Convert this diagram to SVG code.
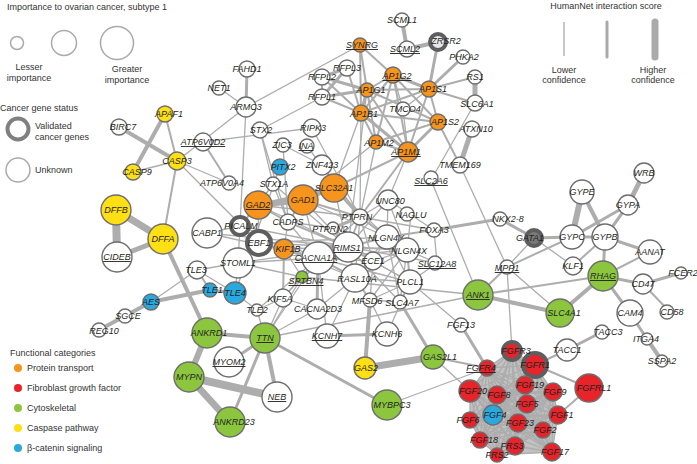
<svg xmlns="http://www.w3.org/2000/svg" width="697" height="464" viewBox="0 0 697 464">
<style>
.bg{fill:#fff}
.e{stroke:#adadad;fill:none;stroke-linecap:round;stroke-linejoin:round}
.e1{stroke-width:1.3}.e2{stroke-width:2}.e3{stroke-width:3}.e4{stroke-width:4}.e5{stroke-width:5}.e6{stroke-width:6}.e7{stroke-width:7}.e8{stroke-width:8}
circle.n{stroke:#6d6d6d;stroke-width:1.4}
.w{fill:#fff}.o{fill:#F7941D}.r{fill:#E8242B}.g{fill:#8CC63F}.y{fill:#FFE014}.b{fill:#29A9E0}
circle.v{stroke:#5e5e5e;stroke-width:4}
text{font-family:"Liberation Sans",Arial,sans-serif;fill:#231F20}
text.l{font-size:9px;font-style:italic;text-anchor:middle}
text.u{text-decoration:underline}
text.lg{font-size:9px;fill:#333}
text.c{text-anchor:middle}
</style>
<rect class="bg" x="0" y="0" width="697" height="464"/>
<g id="legend">
<text class="lg" x="7" y="10">Importance to ovarian cancer, subtype 1</text>
<circle cx="17" cy="43" r="6.5" fill="none" stroke="#aaa" stroke-width="1.5"/>
<circle cx="64" cy="43" r="12.5" fill="none" stroke="#aaa" stroke-width="1.5"/>
<circle cx="117" cy="43" r="16.5" fill="none" stroke="#aaa" stroke-width="1.5"/>
<text class="lg c" x="29" y="70">Lesser</text>
<text class="lg c" x="29" y="81">importance</text>
<text class="lg c" x="127" y="72">Greater</text>
<text class="lg c" x="127" y="83">importance</text>
<text class="lg" x="0" y="111">Cancer gene status</text>
<circle cx="18" cy="129" r="10.5" fill="none" stroke="#808080" stroke-width="4"/>
<text class="lg" x="35" y="129">Validated</text>
<text class="lg" x="35" y="140">cancer genes</text>
<circle cx="18" cy="170" r="12" fill="none" stroke="#aaa" stroke-width="1.5"/>
<text class="lg" x="35" y="173">Unknown</text>
<text class="lg" x="606" y="9" text-anchor="middle">HumanNet interaction score</text>
<line x1="564" y1="22" x2="564" y2="56" stroke="#aaa" stroke-width="1.3"/>
<line x1="607" y1="22" x2="607" y2="57" stroke="#aaa" stroke-width="3" stroke-linecap="round"/>
<line x1="655" y1="22" x2="655" y2="57" stroke="#aaa" stroke-width="7" stroke-linecap="round"/>
<text class="lg c" x="564" y="73">Lower</text>
<text class="lg c" x="564" y="83">confidence</text>
<text class="lg c" x="653" y="73">Higher</text>
<text class="lg c" x="653" y="83">confidence</text>
<text class="lg" x="10" y="356">Functional categories</text>
<circle cx="18" cy="368" r="4" class="o"/><text class="lg" x="27" y="371">Protein transport</text>
<circle cx="18" cy="388" r="4" class="r"/><text class="lg" x="27" y="391">Fibroblast growth factor</text>
<circle cx="18" cy="408" r="4" class="g"/><text class="lg" x="27" y="411">Cytoskeletal</text>
<circle cx="18" cy="428" r="4" class="y"/><text class="lg" x="27" y="431">Caspase pathway</text>
<circle cx="18" cy="448" r="4" class="b"/><text class="lg" x="27" y="451">β-catenin signaling</text>
</g>
<g id="edges" class="e">
<polygon points="512,351 535,365 553,392 558,415 552,452 497,455 480,440 470,420 470,391 487,368" fill="#c2c2c2" stroke="none"/>
<path class="e1" d="M535 365L512 351 535 365 487 368 535 365 525 385 535 365 553 392 535 365 527 404 535 365 558 415 535 365 518 423 535 365 543 430 535 365 515 446 535 365 552 452 535 365 470 391 535 365 497 395 535 365 493 415 535 365 470 420 535 365 480 440 535 365 497 455M512 351L487 368 512 351 525 385 512 351 553 392 512 351 527 404 512 351 558 415 512 351 518 423 512 351 543 430 512 351 515 446 512 351 552 452 512 351 470 391 512 351 497 395 512 351 493 415 512 351 470 420 512 351 480 440 512 351 497 455M487 368L525 385 487 368 553 392 487 368 527 404 487 368 558 415 487 368 518 423 487 368 543 430 487 368 515 446 487 368 552 452 487 368 470 391 487 368 497 395 487 368 493 415 487 368 470 420 487 368 480 440 487 368 497 455M525 385L553 392 525 385 527 404 525 385 558 415 525 385 518 423 525 385 543 430 525 385 515 446 525 385 552 452 525 385 470 391 525 385 497 395 525 385 493 415 525 385 470 420 525 385 480 440 525 385 497 455M553 392L527 404 553 392 558 415 553 392 518 423 553 392 543 430 553 392 515 446 553 392 552 452 553 392 470 391 553 392 497 395 553 392 493 415 553 392 470 420 553 392 480 440 553 392 497 455M527 404L558 415 527 404 518 423 527 404 543 430 527 404 515 446 527 404 552 452 527 404 470 391 527 404 497 395 527 404 493 415 527 404 470 420 527 404 480 440 527 404 497 455M558 415L518 423 558 415 543 430 558 415 515 446 558 415 552 452 558 415 470 391 558 415 497 395 558 415 493 415 558 415 470 420 558 415 480 440 558 415 497 455M518 423L543 430 518 423 515 446 518 423 552 452 518 423 470 391 518 423 497 395 518 423 493 415 518 423 470 420 518 423 480 440 518 423 497 455M543 430L515 446 543 430 552 452 543 430 470 391 543 430 497 395 543 430 493 415 543 430 470 420 543 430 480 440 543 430 497 455M515 446L552 452 515 446 470 391 515 446 497 395 515 446 493 415 515 446 470 420 515 446 480 440 515 446 497 455M552 452L470 391 552 452 497 395 552 452 493 415 552 452 470 420 552 452 480 440 552 452 497 455M470 391L497 395 470 391 493 415 470 391 470 420 470 391 480 440 470 391 497 455M497 395L493 415 497 395 470 420 497 395 480 440 497 395 497 455M493 415L470 420 493 415 480 440 493 415 497 455M470 420L480 440 470 420 497 455M480 440L497 455"/>
<!-- extra neural density -->
<path class="e1" d="M238 263L348 247M207 233L348 247M259 243L387 237M284 249L348 247M318 258L410 282M355 278L387 237M373 261L360 217M388 200L407 250M333 228L348 247M283 298L318 258M302 277L348 247M317 309L355 278M373 261L370 300M400 302L407 250M257 310L318 258M257 310L283 298M240 226L318 258M288 222L318 258M303 200L318 258M334 188L387 237M258 205L348 247M303 200L387 237M355 278L407 250M348 247L410 282M360 217L355 278M333 228L373 261M284 249L355 278M238 263L302 277"/>
<!-- caspase -->
<line class="e4" x1="119" y1="127" x2="177" y2="161"/>
<line class="e4" x1="165" y1="114" x2="133" y2="172"/>
<line class="e2" x1="165" y1="114" x2="177" y2="161"/>
<line class="e1" x1="133" y1="172" x2="177" y2="161"/>
<line class="e2" x1="177" y1="161" x2="163" y2="239"/>
<line class="e7" x1="116" y1="210" x2="163" y2="239"/>
<line class="e8" x1="116" y1="210" x2="117" y2="257"/>
<line class="e5" x1="117" y1="257" x2="163" y2="239"/>
<line class="e4" x1="163" y1="239" x2="207" y2="333"/>
<line class="e1" x1="177" y1="161" x2="229" y2="183"/>
<line class="e1" x1="177" y1="161" x2="259" y2="243"/>
<line class="e1" x1="177" y1="161" x2="246" y2="107"/>
<!-- top -->
<line class="e3" x1="247" y1="69" x2="246" y2="107"/>
<line class="e1" x1="219" y1="88" x2="246" y2="107"/>
<line class="e1" x1="246" y1="107" x2="360" y2="45"/>
<line class="e1" x1="246" y1="107" x2="240" y2="226"/>
<line class="e2" x1="203" y1="142" x2="229" y2="183"/>
<line class="e1" x1="203" y1="142" x2="312" y2="128"/>
<line class="e1" x1="260" y1="130" x2="322" y2="97"/>
<line class="e1" x1="260" y1="130" x2="273" y2="184"/>
<line class="e1" x1="260" y1="130" x2="288" y2="222"/>
<line class="e1" x1="312" y1="128" x2="360" y2="217"/>
<line class="e2" x1="322" y1="77" x2="322" y2="97"/>
<line class="e3" x1="322" y1="77" x2="347" y2="68"/>
<line class="e3" x1="322" y1="97" x2="347" y2="68"/>
<line class="e3" x1="322" y1="77" x2="367" y2="90"/>
<line class="e3" x1="322" y1="97" x2="367" y2="90"/>
<line class="e2" x1="322" y1="97" x2="361" y2="113"/>
<line class="e2" x1="322" y1="77" x2="361" y2="113"/>
<line class="e1" x1="283" y1="145" x2="322" y2="165"/>
<line class="e1" x1="307" y1="146" x2="360" y2="217"/>
<line class="e1" x1="283" y1="145" x2="288" y2="222"/>
<!-- AP1 -->
<line class="e4" x1="402" y1="20" x2="407" y2="49"/>
<line class="e4" x1="407" y1="49" x2="438" y2="42"/>
<line class="e3" x1="438" y1="42" x2="429" y2="89"/>
<line class="e3" x1="463" y1="57" x2="429" y2="89"/>
<line class="e2" x1="475" y1="77" x2="429" y2="89"/>
<line class="e5" x1="475" y1="77" x2="475" y2="103"/>
<line class="e2" x1="475" y1="103" x2="429" y2="89"/>
<line class="e5" x1="472" y1="129" x2="460" y2="165"/>
<line class="e1" x1="475" y1="103" x2="431" y2="180"/>
<line class="e3" x1="393" y1="75" x2="429" y2="89"/>
<line class="e2" x1="393" y1="75" x2="367" y2="90"/>
<line class="e2" x1="393" y1="75" x2="361" y2="113"/>
<line class="e2" x1="393" y1="75" x2="408" y2="152"/>
<line class="e2" x1="393" y1="75" x2="438" y2="122"/>
<line class="e2" x1="393" y1="75" x2="376" y2="142"/>
<line class="e1" x1="393" y1="75" x2="403" y2="109"/>
<line class="e3" x1="367" y1="90" x2="361" y2="113"/>
<line class="e2" x1="367" y1="90" x2="429" y2="89"/>
<line class="e2" x1="367" y1="90" x2="438" y2="122"/>
<line class="e2" x1="367" y1="90" x2="408" y2="152"/>
<line class="e2" x1="367" y1="90" x2="376" y2="142"/>
<line class="e2" x1="361" y1="113" x2="429" y2="89"/>
<line class="e3" x1="361" y1="113" x2="408" y2="152"/>
<line class="e2" x1="361" y1="113" x2="376" y2="142"/>
<line class="e2" x1="361" y1="113" x2="438" y2="122"/>
<line class="e2" x1="429" y1="89" x2="438" y2="122"/>
<line class="e2" x1="429" y1="89" x2="408" y2="152"/>
<line class="e3" x1="438" y1="122" x2="408" y2="152"/>
<line class="e2" x1="438" y1="122" x2="376" y2="142"/>
<line class="e2" x1="376" y1="142" x2="408" y2="152"/>
<line class="e2" x1="360" y1="45" x2="367" y2="90"/>
<line class="e2" x1="360" y1="45" x2="361" y2="113"/>
<line class="e2" x1="360" y1="45" x2="393" y2="75"/>
<line class="e2" x1="347" y1="68" x2="361" y2="113"/>
<line class="e1" x1="403" y1="109" x2="408" y2="152"/>
<line class="e1" x1="403" y1="109" x2="429" y2="89"/>
<line class="e2" x1="438" y1="122" x2="460" y2="165"/>
<line class="e2" x1="408" y1="152" x2="334" y2="188"/>
<line class="e1" x1="361" y1="113" x2="334" y2="188"/>
<line class="e1" x1="376" y1="142" x2="303" y2="200"/>
<line class="e2" x1="408" y1="152" x2="360" y2="217"/>
<line class="e1" x1="376" y1="142" x2="360" y2="217"/>
<line class="e1" x1="408" y1="152" x2="388" y2="200"/>
<line class="e1" x1="361" y1="113" x2="360" y2="217"/>
<line class="e1" x1="367" y1="90" x2="348" y2="247"/>
<line class="e1" x1="460" y1="165" x2="507" y2="267"/>
<line class="e1" x1="431" y1="180" x2="478" y2="295"/>
<!-- neural -->
<line class="e6" x1="303" y1="200" x2="258" y2="205"/>
<line class="e4" x1="303" y1="200" x2="334" y2="188"/>
<line class="e3" x1="258" y1="205" x2="334" y2="188"/>
<line class="e2" x1="258" y1="205" x2="288" y2="222"/>
<line class="e2" x1="303" y1="200" x2="288" y2="222"/>
<line class="e2" x1="303" y1="200" x2="360" y2="217"/>
<line class="e1" x1="258" y1="205" x2="360" y2="217"/>
<line class="e2" x1="334" y1="188" x2="360" y2="217"/>
<line class="e1" x1="334" y1="188" x2="348" y2="247"/>
<line class="e1" x1="303" y1="200" x2="348" y2="247"/>
<line class="e1" x1="258" y1="205" x2="259" y2="243"/>
<line class="e2" x1="258" y1="205" x2="240" y2="226"/>
<line class="e1" x1="273" y1="184" x2="288" y2="222"/>
<line class="e1" x1="273" y1="184" x2="280" y2="167"/>
<line class="e1" x1="273" y1="184" x2="258" y2="205"/>
<line class="e1" x1="273" y1="184" x2="348" y2="247"/>
<line class="e2" x1="288" y1="222" x2="348" y2="247"/>
<line class="e1" x1="288" y1="222" x2="333" y2="228"/>
<line class="e3" x1="360" y1="217" x2="333" y2="228"/>
<line class="e2" x1="360" y1="217" x2="348" y2="247"/>
<line class="e2" x1="360" y1="217" x2="387" y2="237"/>
<line class="e1" x1="360" y1="217" x2="388" y2="200"/>
<line class="e1" x1="360" y1="217" x2="407" y2="250"/>
<line class="e1" x1="360" y1="217" x2="318" y2="258"/>
<line class="e2" x1="348" y1="247" x2="318" y2="258"/>
<line class="e2" x1="348" y1="247" x2="387" y2="237"/>
<line class="e2" x1="348" y1="247" x2="407" y2="250"/>
<line class="e2" x1="348" y1="247" x2="373" y2="261"/>
<line class="e2" x1="348" y1="247" x2="355" y2="278"/>
<line class="e4" x1="387" y1="237" x2="407" y2="250"/>
<line class="e1" x1="387" y1="237" x2="388" y2="200"/>
<line class="e1" x1="387" y1="237" x2="373" y2="261"/>
<line class="e1" x1="407" y1="250" x2="373" y2="261"/>
<line class="e2" x1="407" y1="250" x2="410" y2="282"/>
<line class="e1" x1="387" y1="237" x2="410" y2="282"/>
<line class="e1" x1="388" y1="200" x2="411" y2="215"/>
<line class="e1" x1="388" y1="200" x2="348" y2="247"/>
<line class="e1" x1="411" y1="215" x2="407" y2="250"/>
<line class="e1" x1="411" y1="215" x2="434" y2="230"/>
<line class="e2" x1="434" y1="230" x2="387" y2="237"/>
<line class="e1" x1="434" y1="230" x2="437" y2="263"/>
<line class="e1" x1="434" y1="230" x2="360" y2="217"/>
<line class="e3" x1="434" y1="230" x2="500" y2="219"/>
<line class="e1" x1="437" y1="263" x2="407" y2="250"/>
<line class="e1" x1="437" y1="263" x2="410" y2="282"/>
<line class="e1" x1="437" y1="263" x2="348" y2="247"/>
<line class="e2" x1="373" y1="261" x2="355" y2="278"/>
<line class="e1" x1="373" y1="261" x2="410" y2="282"/>
<line class="e1" x1="355" y1="278" x2="410" y2="282"/>
<line class="e2" x1="355" y1="278" x2="370" y2="300"/>
<line class="e1" x1="370" y1="300" x2="400" y2="302"/>
<line class="e1" x1="370" y1="300" x2="410" y2="282"/>
<line class="e1" x1="400" y1="302" x2="410" y2="282"/>
<line class="e1" x1="400" y1="302" x2="348" y2="247"/>
<line class="e1" x1="400" y1="302" x2="387" y2="237"/>
<line class="e1" x1="370" y1="300" x2="407" y2="250"/>
<line class="e4" x1="370" y1="300" x2="365" y2="368"/>
<line class="e3" x1="400" y1="302" x2="433" y2="357"/>
<line class="e3" x1="387" y1="334" x2="327" y2="336"/>
<line class="e1" x1="387" y1="334" x2="370" y2="300"/>
<line class="e1" x1="387" y1="334" x2="410" y2="282"/>
<line class="e1" x1="327" y1="336" x2="355" y2="278"/>
<line class="e1" x1="327" y1="336" x2="318" y2="258"/>
<line class="e2" x1="318" y1="258" x2="284" y2="249"/>
<line class="e3" x1="318" y1="258" x2="317" y2="309"/>
<line class="e1" x1="318" y1="258" x2="302" y2="277"/>
<line class="e1" x1="318" y1="258" x2="373" y2="261"/>
<line class="e2" x1="318" y1="258" x2="355" y2="278"/>
<line class="e1" x1="318" y1="258" x2="407" y2="250"/>
<line class="e2" x1="284" y1="249" x2="283" y2="298"/>
<line class="e1" x1="284" y1="249" x2="259" y2="243"/>
<line class="e1" x1="284" y1="249" x2="302" y2="277"/>
<line class="e1" x1="284" y1="249" x2="288" y2="222"/>
<line class="e2" x1="259" y1="243" x2="240" y2="226"/>
<line class="e1" x1="259" y1="243" x2="238" y2="263"/>
<line class="e1" x1="259" y1="243" x2="318" y2="258"/>
<line class="e1" x1="259" y1="243" x2="348" y2="247"/>
<line class="e1" x1="240" y1="226" x2="207" y2="233"/>
<line class="e1" x1="240" y1="226" x2="238" y2="263"/>
<line class="e1" x1="240" y1="226" x2="348" y2="247"/>
<line class="e1" x1="207" y1="233" x2="318" y2="258"/>
<line class="e1" x1="238" y1="263" x2="197" y2="270"/>
<line class="e1" x1="238" y1="263" x2="318" y2="258"/>
<line class="e1" x1="283" y1="298" x2="302" y2="277"/>
<line class="e1" x1="283" y1="298" x2="265" y2="338"/>
<line class="e1" x1="283" y1="298" x2="317" y2="309"/>
<line class="e1" x1="322" y1="165" x2="360" y2="217"/>
<line class="e1" x1="280" y1="167" x2="235" y2="293"/>
<!-- erythroid -->
<line class="e3" x1="500" y1="219" x2="534" y2="238"/>
<line class="e3" x1="534" y1="238" x2="572" y2="237"/>
<line class="e1" x1="534" y1="238" x2="573" y2="266"/>
<line class="e1" x1="534" y1="238" x2="507" y2="267"/>
<line class="e2" x1="507" y1="267" x2="572" y2="237"/>
<line class="e2" x1="507" y1="267" x2="478" y2="295"/>
<line class="e1" x1="507" y1="267" x2="560" y2="313"/>
<line class="e1" x1="507" y1="267" x2="512" y2="351"/>
<line class="e6" x1="582" y1="192" x2="572" y2="237"/>
<line class="e4" x1="582" y1="192" x2="605" y2="237"/>
<line class="e5" x1="644" y1="173" x2="628" y2="205"/>
<line class="e3" x1="628" y1="205" x2="572" y2="237"/>
<line class="e3" x1="628" y1="205" x2="605" y2="237"/>
<line class="e3" x1="572" y1="237" x2="605" y2="237"/>
<line class="e2" x1="573" y1="266" x2="605" y2="237"/>
<line class="e3" x1="605" y1="237" x2="650" y2="252"/>
<line class="e3" x1="605" y1="237" x2="603" y2="276"/>
<line class="e2" x1="603" y1="276" x2="650" y2="252"/>
<line class="e3" x1="603" y1="276" x2="643" y2="284"/>
<line class="e3" x1="643" y1="284" x2="681" y2="273"/>
<line class="e2" x1="643" y1="284" x2="670" y2="312"/>
<line class="e4" x1="603" y1="276" x2="560" y2="313"/>
<line class="e2" x1="603" y1="276" x2="478" y2="295"/>
<line class="e3" x1="603" y1="276" x2="630" y2="313"/>
<line class="e4" x1="478" y1="295" x2="560" y2="313"/>
<line class="e3" x1="630" y1="313" x2="647" y2="339"/>
<line class="e4" x1="647" y1="339" x2="662" y2="361"/>
<line class="e3" x1="567" y1="350" x2="602" y2="332"/>
<line class="e2" x1="567" y1="350" x2="535" y2="365"/>
<line class="e2" x1="535" y1="365" x2="589" y2="388"/>
<line class="e2" x1="589" y1="388" x2="558" y2="415"/>
<line class="e1" x1="478" y1="295" x2="265" y2="338"/>
<line class="e1" x1="478" y1="295" x2="302" y2="277"/>
<line class="e3" x1="461" y1="325" x2="487" y2="368"/>
<line class="e1" x1="461" y1="325" x2="410" y2="282"/>
<line class="e2" x1="433" y1="357" x2="487" y2="368"/>
<line class="e1" x1="433" y1="357" x2="470" y2="391"/>
<line class="e1" x1="387" y1="405" x2="487" y2="368"/>
<line class="e7" x1="365" y1="368" x2="433" y2="357"/>
<line class="e3" x1="265" y1="338" x2="387" y2="405"/>
<!-- sarcomere / TLE -->
<line class="e4" x1="207" y1="333" x2="265" y2="338"/>
<line class="e6" x1="207" y1="333" x2="189" y2="377"/>
<line class="e7" x1="189" y1="377" x2="230" y2="422"/>
<line class="e8" x1="189" y1="377" x2="277" y2="397"/>
<line class="e3" x1="265" y1="338" x2="230" y2="422"/>
<line class="e4" x1="265" y1="338" x2="277" y2="397"/>
<line class="e3" x1="265" y1="338" x2="229" y2="362"/>
<line class="e1" x1="265" y1="338" x2="257" y2="310"/>
<line class="e1" x1="265" y1="338" x2="317" y2="309"/>
<line class="e1" x1="265" y1="338" x2="302" y2="277"/>
<line class="e1" x1="265" y1="338" x2="318" y2="258"/>
<line class="e3" x1="210" y1="290" x2="235" y2="293"/>
<line class="e4" x1="210" y1="290" x2="151" y2="302"/>
<line class="e2" x1="197" y1="270" x2="210" y2="290"/>
<line class="e1" x1="197" y1="270" x2="235" y2="293"/>
<line class="e1" x1="235" y1="293" x2="257" y2="310"/>
<line class="e1" x1="197" y1="270" x2="151" y2="302"/>
<line class="e4" x1="151" y1="302" x2="125" y2="316"/>
<line class="e4" x1="125" y1="316" x2="99" y2="330"/>
<line class="e1" x1="235" y1="293" x2="238" y2="263"/>
</g>
<g id="nodes">
<g id="BIRC7"><circle class="n w" cx="119" cy="127" r="8"/><text class="l" x="123" y="130">BIRC7</text></g>
<g id="APAF1"><circle class="n y" cx="165" cy="114" r="8"/><text class="l" x="169" y="117">APAF1</text></g>
<g id="CASP3"><circle class="n y" cx="177" cy="161" r="9"/><text class="l" x="177" y="164">CASP3</text></g>
<g id="CASP9"><circle class="n y" cx="133" cy="172" r="8"/><text class="l" x="137" y="175">CASP9</text></g>
<g id="DFFB"><circle class="n y" cx="116" cy="210" r="15"/><text class="l" x="116" y="213">DFFB</text></g>
<g id="DFFA"><circle class="n y" cx="163" cy="239" r="15"/><text class="l" x="163" y="242">DFFA</text></g>
<g id="CIDEB"><circle class="n w" cx="117" cy="257" r="15"/><text class="l u" x="117" y="260">CIDEB</text></g>
<g id="AES"><circle class="n b" cx="151" cy="302" r="8"/><text class="l" x="151" y="305">AES</text></g>
<g id="SGCE"><circle class="n w" cx="125" cy="316" r="7"/><text class="l" x="128" y="319">SGCE</text></g>
<g id="REG10"><circle class="n w" cx="99" cy="330" r="7"/><text class="l" x="104" y="334">REG10</text></g>
<g id="FAHD1"><circle class="n w" cx="247" cy="69" r="8"/><text class="l" x="247" y="72">FAHD1</text></g>
<g id="NET1"><circle class="n w" cx="219" cy="88" r="7"/><text class="l" x="219" y="91">NET1</text></g>
<g id="ARMC3"><circle class="n w" cx="246" cy="107" r="10"/><text class="l" x="246" y="110">ARMC3</text></g>
<g id="STX2"><circle class="n w" cx="260" cy="130" r="8"/><text class="l" x="261" y="133">STX2</text></g>
<g id="RIPK3"><circle class="n w" cx="312" cy="128" r="9"/><text class="l" x="313" y="131">RIPK3</text></g>
<g id="RFPL2"><circle class="n w" cx="322" cy="77" r="8"/><text class="l" x="322" y="80">RFPL2</text></g>
<g id="RFPL1"><circle class="n w" cx="322" cy="97" r="8"/><text class="l" x="322" y="100">RFPL1</text></g>
<g id="ATP6V0D2"><circle class="n w" cx="203" cy="142" r="9"/><text class="l u" x="203" y="145">ATP6V0D2</text></g>
<g id="ZIC3"><circle class="n w" cx="283" cy="145" r="7"/><text class="l" x="282" y="148">ZIC3</text></g>
<g id="INA"><circle class="n w" cx="307" cy="146" r="7"/><text class="l u" x="306" y="149">INA</text></g>
<g id="SCML1"><circle class="n w" cx="402" cy="20" r="7"/><text class="l" x="402" y="23">SCML1</text></g>
<g id="ZRSR2"><circle class="n v" cx="438" cy="42" r="8" fill="#e8e8e8"/><text class="l" x="446" y="44">ZRSR2</text></g>
<g id="SCML2"><circle class="n w" cx="407" cy="49" r="8"/><text class="l u" x="405" y="52">SCML2</text></g>
<g id="SYNRG"><circle class="n o" cx="360" cy="45" r="7"/><text class="l u" x="362" y="48">SYNRG</text></g>
<g id="RFPL3"><circle class="n w" cx="347" cy="68" r="8"/><text class="l" x="347" y="71">RFPL3</text></g>
<g id="PHKA2"><circle class="n w" cx="463" cy="57" r="7"/><text class="l" x="464" y="60">PHKA2</text></g>
<g id="AP1G2"><circle class="n o" cx="393" cy="75" r="8"/><text class="l u" x="397" y="79">AP1G2</text></g>
<g id="RS1"><circle class="n w" cx="475" cy="77" r="7"/><text class="l" x="475" y="80">RS1</text></g>
<g id="AP1S1"><circle class="n o" cx="429" cy="89" r="8"/><text class="l" x="433" y="92">AP1S1</text></g>
<g id="AP1G1"><circle class="n o" cx="367" cy="90" r="7"/><text class="l" x="371" y="93">AP1G1</text></g>
<g id="SLC6A1"><circle class="n w" cx="475" cy="103" r="8"/><text class="l" x="477" y="107">SLC6A1</text></g>
<g id="AP1B1"><circle class="n o" cx="361" cy="113" r="8"/><text class="l" x="364" y="117">AP1B1</text></g>
<g id="TMCO4"><circle class="n w" cx="403" cy="109" r="7"/><text class="l" x="405" y="112">TMCO4</text></g>
<g id="AP1S2"><circle class="n o" cx="438" cy="122" r="8"/><text class="l" x="445" y="125">AP1S2</text></g>
<g id="ATXN10"><circle class="n w" cx="472" cy="129" r="8"/><text class="l" x="476" y="132">ATXN10</text></g>
<g id="AP1M2"><circle class="n o" cx="376" cy="142" r="7"/><text class="l" x="379" y="146">AP1M2</text></g>
<g id="AP1M1"><circle class="n o" cx="408" cy="152" r="10"/><text class="l u" x="406" y="155">AP1M1</text></g>
<g id="PITX2"><circle class="n b" cx="280" cy="167" r="8"/><text class="l" x="283" y="170">PITX2</text></g>
<g id="ZNF423"><circle class="n w" cx="322" cy="165" r="10"/><text class="l" x="322" y="168">ZNF423</text></g>
<g id="ATP6V0A4"><circle class="n w" cx="229" cy="183" r="7"/><text class="l" x="222" y="186">ATP6V0A4</text></g>
<g id="STX1A"><circle class="n w" cx="273" cy="184" r="7"/><text class="l" x="274" y="187">STX1A</text></g>
<g id="GAD2"><circle class="n o" cx="258" cy="205" r="14"/><text class="l u" x="258" y="208">GAD2</text></g>
<g id="GAD1"><circle class="n o" cx="303" cy="200" r="15"/><text class="l" x="303" y="203">GAD1</text></g>
<g id="SLC32A1"><circle class="n o" cx="334" cy="188" r="14"/><text class="l" x="334" y="191">SLC32A1</text></g>
<g id="PICALM"><circle class="n v" cx="240" cy="226" r="9" fill="#fff"/><text class="l" x="241" y="229">PICALM</text></g>
<g id="CADPS"><circle class="n w" cx="288" cy="222" r="8"/><text class="l" x="288" y="225">CADPS</text></g>
<g id="CABP1"><circle class="n w" cx="207" cy="233" r="15"/><text class="l" x="207" y="236">CABP1</text></g>
<g id="PTPRN2"><circle class="n w" cx="333" cy="228" r="6"/><text class="l" x="330" y="232">PTPRN2</text></g>
<g id="EBF1"><circle class="n v" cx="259" cy="243" r="12" fill="#fff"/><text class="l" x="259" y="246">EBF1</text></g>
<g id="KIF1B"><circle class="n o" cx="284" cy="249" r="10"/><text class="l" x="288" y="252">KIF1B</text></g>
<g id="CACNA1A"><circle class="n w" cx="318" cy="258" r="16"/><text class="l u" x="316" y="261">CACNA1A</text></g>
<g id="STOML1"><circle class="n w" cx="238" cy="263" r="15"/><text class="l" x="238" y="266">STOML1</text></g>
<g id="TLE3"><circle class="n w" cx="197" cy="270" r="9"/><text class="l" x="196" y="273">TLE3</text></g>
<g id="SPTBN4"><circle class="n g" cx="302" cy="277" r="6"/><text class="l u" x="306" y="284">SPTBN4</text></g>
<g id="TLE1"><circle class="n b" cx="210" cy="290" r="7"/><text class="l" x="212" y="293">TLE1</text></g>
<g id="TLE4"><circle class="n b" cx="235" cy="293" r="11"/><text class="l" x="235" y="296">TLE4</text></g>
<g id="KIF5A"><circle class="n w" cx="283" cy="298" r="9"/><text class="l" x="280" y="302">KIF5A</text></g>
<g id="TLE2"><circle class="n w" cx="257" cy="310" r="6"/><text class="l" x="257" y="313">TLE2</text></g>
<g id="CACNA2D3"><circle class="n w" cx="317" cy="309" r="10"/><text class="l" x="318" y="312">CACNA2D3</text></g>
<g id="TMEM169"><circle class="n w" cx="460" cy="165" r="8"/><text class="l" x="460" y="168">TMEM169</text></g>
<g id="SLC2A6"><circle class="n w" cx="431" cy="178" r="7"/><text class="l u" x="431" y="184">SLC2A6</text></g>
<g id="UNC80"><circle class="n w" cx="388" cy="200" r="10"/><text class="l" x="390" y="204">UNC80</text></g>
<g id="NAGLU"><circle class="n w" cx="407" cy="214" r="7"/><text class="l" x="411" y="218">NAGLU</text></g>
<g id="PTPRN"><circle class="n w" cx="360" cy="217" r="8"/><text class="l" x="357" y="220">PTPRN</text></g>
<g id="NKX2-8"><circle class="n w" cx="500" cy="219" r="7"/><text class="l" x="508" y="222">NKX2-8</text></g>
<g id="FOXA3"><circle class="n w" cx="434" cy="230" r="7"/><text class="l" x="434" y="233">FOXA3</text></g>
<g id="NLGN4Y"><circle class="n w" cx="387" cy="237" r="12"/><text class="l" x="386" y="241">NLGN4Y</text></g>
<g id="RIMS1"><circle class="n w" cx="348" cy="247" r="15"/><text class="l u" x="347" y="251">RIMS1</text></g>
<g id="NLGN4X"><circle class="n w" cx="407" cy="250" r="12"/><text class="l" x="409" y="254">NLGN4X</text></g>
<g id="ECE1"><circle class="n w" cx="373" cy="261" r="9"/><text class="l" x="373" y="264">ECE1</text></g>
<g id="SLC12A8"><circle class="n w" cx="435" cy="263" r="7"/><text class="l u" x="437" y="267">SLC12A8</text></g>
<g id="MPP1"><circle class="n w" cx="507" cy="267" r="7"/><text class="l u" x="507" y="271">MPP1</text></g>
<g id="RASL10A"><circle class="n w" cx="355" cy="278" r="14"/><text class="l" x="357" y="282">RASL10A</text></g>
<g id="PLCL1"><circle class="n w" cx="410" cy="282" r="12"/><text class="l" x="410" y="285">PLCL1</text></g>
<g id="ANK1"><circle class="n g" cx="478" cy="295" r="15"/><text class="l u" x="478" y="298">ANK1</text></g>
<g id="MFSD6"><circle class="n w" cx="370" cy="300" r="7"/><text class="l" x="367" y="304">MFSD6</text></g>
<g id="SLC4A7"><circle class="n w" cx="400" cy="302" r="7"/><text class="l" x="402" y="306">SLC4A7</text></g>
<g id="WRB"><circle class="n w" cx="644" cy="173" r="10"/><text class="l" x="644" y="176">WRB</text></g>
<g id="GYPE"><circle class="n w" cx="582" cy="192" r="12"/><text class="l" x="582" y="195">GYPE</text></g>
<g id="GYPA"><circle class="n w" cx="628" cy="205" r="10"/><text class="l" x="628" y="208">GYPA</text></g>
<g id="GATA1"><circle class="n v" cx="534" cy="238" r="8" fill="#7a7a7a"/><text class="l" x="530" y="241">GATA1</text></g>
<g id="GYPC"><circle class="n w" cx="572" cy="237" r="12"/><text class="l" x="572" y="240">GYPC</text></g>
<g id="GYPB"><circle class="n w" cx="605" cy="237" r="13"/><text class="l" x="605" y="240">GYPB</text></g>
<g id="AANAT"><circle class="n w" cx="650" cy="252" r="12"/><text class="l" x="650" y="255">AANAT</text></g>
<g id="KLF1"><circle class="n w" cx="573" cy="266" r="9"/><text class="l" x="573" y="269">KLF1</text></g>
<g id="RHAG"><circle class="n g" cx="603" cy="276" r="15"/><text class="l u" x="603" y="279">RHAG</text></g>
<g id="FCER2"><circle class="n w" cx="681" cy="273" r="6"/><text class="l" x="683" y="276">FCER2</text></g>
<g id="CD47"><circle class="n w" cx="643" cy="284" r="10"/><text class="l" x="643" y="287">CD47</text></g>
<g id="CD58"><circle class="n w" cx="667" cy="312" r="7"/><text class="l" x="672" y="315">CD58</text></g>
<g id="SLC4A1"><circle class="n g" cx="560" cy="313" r="14"/><text class="l" x="564" y="316">SLC4A1</text></g>
<g id="CAM4"><circle class="n w" cx="630" cy="313" r="13"/><text class="l" x="630" y="316">CAM4</text></g>
<g id="TACC3"><circle class="n w" cx="602" cy="332" r="7"/><text class="l" x="608" y="335">TACC3</text></g>
<g id="ITGA4"><circle class="n w" cx="647" cy="339" r="6"/><text class="l" x="646" y="342">ITGA4</text></g>
<g id="TACC1"><circle class="n w" cx="567" cy="350" r="11"/><text class="l" x="567" y="353">TACC1</text></g>
<g id="SSPA2"><circle class="n w" cx="662" cy="361" r="6"/><text class="l" x="662" y="364">SSPA2</text></g>
<g id="FGF13"><circle class="n w" cx="461" cy="325" r="7"/><text class="l" x="461" y="328">FGF13</text></g>
<g id="KCNH6"><circle class="n w" cx="387" cy="334" r="12"/><text class="l" x="387" y="337">KCNH6</text></g>
<g id="KCNH7"><circle class="n w" cx="327" cy="336" r="12"/><text class="l u" x="327" y="339">KCNH7</text></g>
<g id="GAS2L1"><circle class="n g" cx="433" cy="357" r="12"/><text class="l" x="440" y="360">GAS2L1</text></g>
<g id="GAS2"><circle class="n y" cx="365" cy="368" r="11"/><text class="l" x="366" y="371">GAS2</text></g>
<g id="MYBPC3"><circle class="n g" cx="387" cy="405" r="15"/><text class="l" x="392" y="408">MYBPC3</text></g>
<g id="FGFR1"><circle class="n r v" cx="535" cy="365" r="12"/><text class="l" x="535" y="368">FGFR1</text></g>
<g id="FGFR3"><circle class="n r v" cx="512" cy="351" r="9"/><text class="l" x="516" y="354">FGFR3</text></g>
<g id="FGFR4"><circle class="n r" cx="487" cy="368" r="8"/><text class="l u" x="481" y="371">FGFR4</text></g>
<g id="FGFRL1"><circle class="n r" cx="589" cy="388" r="14"/><text class="l" x="594" y="391">FGFRL1</text></g>
<g id="FGF19"><circle class="n r" cx="525" cy="385" r="9"/><text class="l" x="530" y="388">FGF19</text></g>
<g id="FGF9"><circle class="n r" cx="553" cy="392" r="9"/><text class="l" x="555" y="395">FGF9</text></g>
<g id="FGF20"><circle class="n r" cx="470" cy="391" r="11"/><text class="l" x="473" y="394">FGF20</text></g>
<g id="FGF8"><circle class="n r" cx="497" cy="395" r="9"/><text class="l" x="499" y="398">FGF8</text></g>
<g id="FGF5"><circle class="n r" cx="527" cy="404" r="9"/><text class="l" x="527" y="407">FGF5</text></g>
<g id="FGF4"><circle class="n b" cx="493" cy="415" r="10"/><text class="l" x="495" y="418">FGF4</text></g>
<g id="FGF1"><circle class="n r" cx="558" cy="415" r="9"/><text class="l" x="562" y="418">FGF1</text></g>
<g id="FGF6"><circle class="n r" cx="470" cy="420" r="8"/><text class="l" x="468" y="423">FGF6</text></g>
<g id="FGF23"><circle class="n r" cx="518" cy="423" r="9"/><text class="l" x="520" y="426">FGF23</text></g>
<g id="FGF2"><circle class="n r" cx="543" cy="430" r="8"/><text class="l" x="545" y="433">FGF2</text></g>
<g id="FGF18"><circle class="n r" cx="480" cy="440" r="8"/><text class="l" x="484" y="443">FGF18</text></g>
<g id="FRS3"><circle class="n r" cx="515" cy="446" r="9"/><text class="l" x="512" y="449">FRS3</text></g>
<g id="FGF17"><circle class="n r" cx="552" cy="452" r="9"/><text class="l" x="555" y="455">FGF17</text></g>
<g id="FRS2"><circle class="n r" cx="497" cy="455" r="7"/><text class="l" x="497" y="458">FRS2</text></g>
<g id="ANKRD1"><circle class="n g" cx="207" cy="333" r="15"/><text class="l" x="209" y="336">ANKRD1</text></g>
<g id="TTN"><circle class="n g" cx="265" cy="338" r="15"/><text class="l u" x="265" y="341">TTN</text></g>
<g id="MYOM2"><circle class="n w" cx="229" cy="362" r="15"/><text class="l u" x="229" y="365">MYOM2</text></g>
<g id="MYPN"><circle class="n g" cx="189" cy="377" r="15"/><text class="l" x="189" y="380">MYPN</text></g>
<g id="NEB"><circle class="n w" cx="277" cy="397" r="15"/><text class="l u" x="277" y="400">NEB</text></g>
<g id="ANKRD23"><circle class="n g" cx="230" cy="422" r="15"/><text class="l" x="234" y="425">ANKRD23</text></g>
</g>
</svg>
